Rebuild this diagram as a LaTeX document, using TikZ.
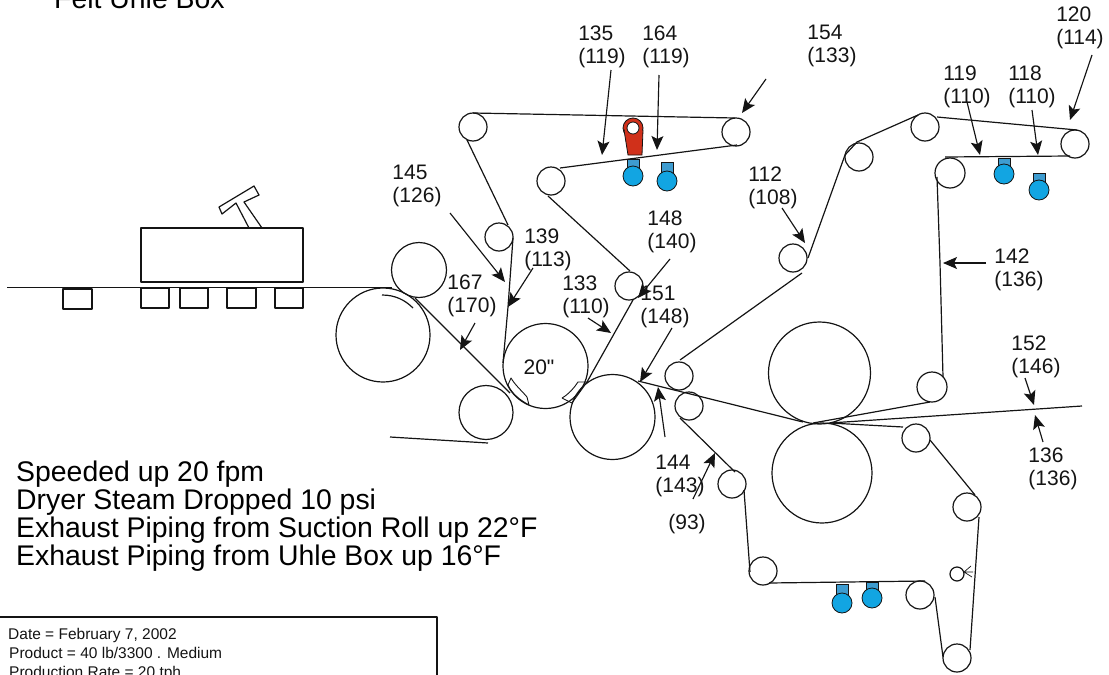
\documentclass[tikz,border=0pt]{standalone}
\usepackage{fontspec}
\setmainfont{Liberation Sans}
\newfontfamily\plainf{Liberation Sans}
\usetikzlibrary{arrows.meta}
\definecolor{bluefill}{HTML}{12A5E2}
\definecolor{bluecap}{HTML}{3E9CD0}
\definecolor{redfill}{HTML}{D0301A}
\definecolor{ink}{HTML}{141414}
\tikzset{
  ln/.style={draw=ink,line width=1.2pt,line join=round},
  fabric/.style={ln},
  roll/.style={ln,fill=none},
  leader/.style={draw=ink,line width=1.15pt,-{Stealth[length=14pt,width=12pt,inset=3pt]}},
  lab/.style={font=\fontsize{21}{23}\selectfont,align=left,text=ink,inner sep=0pt,yshift=-2pt},
  big/.style={font=\fontsize{28.4}{28.4}\selectfont,anchor=base west,inner sep=0pt,text=black},
  small/.style={font=\fontsize{15.5}{15.5}\selectfont,anchor=base west,inner sep=0pt,text=ink},
  pump/.style={draw=ink,line width=0.8pt,fill=bluefill},
  pumpcap/.style={draw=ink,line width=0.8pt,fill=bluecap},
}
\newcommand{\leaderline}[3]{\coordinate (#1s) at #2; \coordinate (#1t) at #3; \draw[leader] (#1s) -- (#1t);}
\newcommand{\tag}[4]{\node[lab] (#1) at (#2,#3) {#4};}
\newcommand{\suction}[5]{% name, cx, cy, cap left, cap top
  \path[pumpcap] (#4,#5) rectangle ++(12,11);
  \path[pump] (#2,#3) circle (10);
  \coordinate (#1) at (#2,#3);}
\begin{document}
\begin{tikzpicture}[x=1pt,y=-1pt]
\useasboundingbox (0,0) rectangle (1109,675);
\clip (0,0) rectangle (1109,675);
% --- texts cut by the page
\node[big] (title) at (54,8) {Felt Uhle Box};
\node[big] (n1) at (16,481) {Speeded up 20 fpm};
\node[big] (n2) at (16,509) {Dryer Steam Dropped 10 psi};
\node[big] (n3) at (16,537) {Exhaust Piping from Suction Roll up 22°F};
\node[big] (n4) at (16,565) {Exhaust Piping from Uhle Box up 16°F};
% --- info box
\draw[ln] (-3,617) rectangle (437,690);
\node[small] (d1) at (8,639) {Date = February 7, 2002};
\node[small] (d2) at (9,658) {Product = 40 lb/3300 . Medium};
\node[small] (d3) at (9,677.5) {Production Rate = 20 tph};
% --- Uhle box and felt at the left
\draw[ln] (141,228) rectangle (303,282);
\draw[ln] (249,228)--(236,203)--(222,214)--(219,207)--(254,186)--(259,195)--(244,202)--(262,228);
\draw[fabric] (7,287.5)--(392,287.5);
\draw[ln] (63,289) rectangle (92,309);
\draw[ln] (141,288) rectangle (169,308);
\draw[ln] (180,288) rectangle (208,308);
\draw[ln] (227,288) rectangle (256,308);
\draw[ln] (275,288) rectangle (303,308);
% --- rolls
\foreach \nm/\cx/\cy/\r in {
  A/383/335/47, B/419/270/27.5, C/486/412.5/27, D/545.5/366/42.5, E/612.5/417/42.5,
  F/679/376/14, G/689/406/14, H/819.5/373/51, I/822/473/50,
  J/473/127/14, K/736/132/14, L/551/181/14, M/499/237/14, N/629/286/14,
  O/793/258/14, P/859/157/14, Q/925/127/14, R/1075/144/14, S/950/173/15, T/932/387/15,
  U/916/438/14, V/967/507/14, W/957/574/7, X/920/595/14, Y/957/658/14, Z/763/571/14, AA/732/484/14}
  {\draw[roll] (\cx,\cy) circle (\r); \coordinate (r\nm) at (\cx,\cy);}
% --- fabric runs
\draw[fabric] (473,113)--(735,118);
\draw[fabric] (560,168)--(737,145);
\draw[fabric] (467,140)--(508,225);
\draw[fabric] (513,238)--(508,307)--(503,363);
\draw[fabric] (548,196)--(630,271);
\draw[fabric] (633,300)--(587,382);
\draw[fabric] (382,295) .. controls (395,295) and (405,300) .. (413,308);
\draw[fabric] (415,298)--(510,393);
\draw[fabric] (390,437)--(488,443);
\draw[fabric] (638,381)--(803,422);
\draw[fabric] (680,360)--(802,273);
\draw[fabric] (808,258)--(845,155)--(857,142)--(918,115);
\draw[fabric] (937,117)--(1077,130);
\draw[fabric] (945,157)--(1070,156);
\draw[fabric] (937,177)--(940,263)--(943,377);
\draw[fabric] (930,402)--(813,423);
\draw[fabric] (830,423)--(1082,406);
\draw[fabric] (830,423)--(903,427);
\draw[fabric] (930,440)--(975,495);
\draw[fabric] (979,517)--(970,650);
\draw[fabric] (943,657)--(935,597);
\draw[fabric] (925,581)--(769,583);
\draw[fabric] (750,572)--(744,490);
\draw[fabric] (680,418)--(735,472);
% --- wedges at the 20 inch roll
\draw[ln,line width=0.9pt] (511,378) .. controls (515,385) and (522,391) .. (527,397)--(529,405) .. controls (520,400) and (512,394) .. (508,385)--cycle;
\draw[ln,line width=0.9pt] (562,398)--(572,403)--(587,382)--(578,382) .. controls (574,388) and (569,394) .. (562,398);
% --- suction boxes
\suction{b1}{633}{176}{627}{159}
\suction{b2}{667}{181}{661}{162}
\suction{b3}{1004}{174}{998}{158}
\suction{b4}{1039}{190}{1033}{173}
\suction{b5}{842}{603}{836}{584}
\suction{b6}{872}{598}{866}{582}
% --- red shower
\path[draw=ink,line width=0.8pt,fill=redfill] (633,128) circle (10);
\path[draw=ink,line width=0.8pt,fill=redfill] (624,130)--(628,155)--(642,155)--(643,130)--cycle;
\path[fill=redfill] (625,127) rectangle (642,134);
\draw[ink,line width=0.8pt,fill=white] (633,128) circle (6);
% --- small mark on the little roll
\draw[ln,line width=0.7pt] (971,566)--(964,572)--(972,577) (964,572)--(973,572);
% --- labels
\tag{t135}{602}{45}{135\\(119)}
\tag{t164}{666}{45}{164\\(119)}
\tag{t154}{832}{44}{154\\(133)}
\tag{t145}{417}{184}{145\\(126)}
\tag{t139}{548}{248}{139\\(113)}
\tag{t167}{472}{294}{167\\(170)}
\tag{t133}{586}{295}{133\\(110)}
\tag{t148}{672}{230}{148\\(140)}
\tag{t151}{665}{305}{151\\(148)}
\tag{t112}{773}{186}{112\\(108)}
\tag{t119}{967}{85}{119\\(110)}
\tag{t118}{1032}{85}{118\\(110)}
\tag{t120}{1080}{26}{120\\(114)}
\tag{t142}{1019}{268}{142\\(136)}
\tag{t152}{1036}{355}{152\\(146)}
\tag{t136}{1053}{467}{136\\(136)}
\tag{t144}{680}{474}{144\\(143)}
\tag{t93}{687}{522}{(93)}
\node[lab,yshift=2pt] (t20) at (539,367) {\plainf 20"};
% --- leaders
\leaderline{a135}{(611,70)}{(602,155)}
\leaderline{a164}{(659,75)}{(657,150)}
\leaderline{a154}{(766,79)}{(742,113)}
\leaderline{a145}{(450,213)}{(505,282)}
\leaderline{a139}{(533,268)}{(508,307)}
\leaderline{a167}{(475,323)}{(460,350)}
\leaderline{a133}{(588,318)}{(611,333)}
\leaderline{a148}{(670,259)}{(638,298)}
\leaderline{a151}{(672,328)}{(640,382)}
\leaderline{a112}{(782,208)}{(805,243)}
\leaderline{a119}{(967,102)}{(980,155)}
\leaderline{a118}{(1032,110)}{(1038,155)}
\leaderline{a120}{(1092,55)}{(1070,120)}
\leaderline{a142}{(986,263)}{(943,263)}
\leaderline{a152}{(1025,378)}{(1034,405)}
\leaderline{a136}{(1043,442)}{(1035,415)}
\leaderline{a144}{(665,437)}{(658,387)}
\leaderline{a93}{(693,499)}{(715,453)}
\end{tikzpicture}
\end{document}
